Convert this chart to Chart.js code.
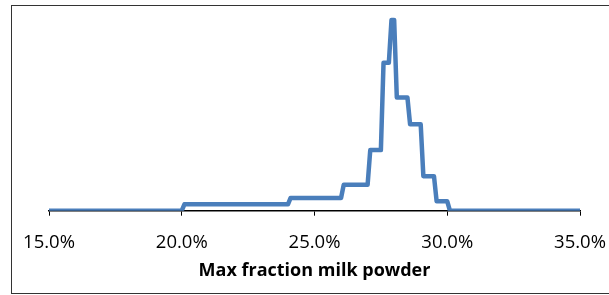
<!DOCTYPE html>
<html>
<head>
<meta charset="utf-8">
<script src="https://cdn.jsdelivr.net/npm/chart.js@4.4.1/dist/chart.umd.min.js"></script>
<style>
html, body { margin: 0; padding: 0; background: #fff; }
#box { width: 609px; height: 295px; }
</style>
</head>
<body>
<div id="box"><canvas id="courbe" width="609" height="295"></canvas></div>
<script>
//step points of the curve (x in %, y relative frequency)
var fraction = [15.0, 20.0, 20.1, 24.0, 24.1, 26.0, 26.1, 27.0, 27.1, 27.5, 27.6, 27.8, 27.9, 28.0, 28.1, 28.5, 28.6, 29.0, 29.1, 29.5, 29.6, 30.0, 30.1, 35.0];
var frequence = [0, 0, 3.2, 3.2, 6.4, 6.4, 13, 13, 30.5, 30.5, 74.4, 74.4, 96, 96, 57, 57, 43.5, 43.5, 17.4, 17.4, 4.7, 4.7, 0, 0];
//ticks of the x axis
var ticksX = [15, 20, 25, 30, 35];

var points = [];
for (var i = 0; i < fraction.length; i++) {
    points.push({x: fraction[i], y: frequence[i]});
}

//frame around the chart
var cadre = {
    id: 'cadre',
    beforeDraw: function(chart) {
        var ctx = chart.ctx;
        ctx.save();
        ctx.fillStyle = '#ffffff';
        ctx.fillRect(0, 0, chart.width, chart.height);
        ctx.strokeStyle = '#333333';
        ctx.lineWidth = 1;
        ctx.strokeRect(11.5, 5.5, 700, 288);
        ctx.restore();
    }
};

var ctxC = document.getElementById("courbe").getContext('2d');
var myLineChart = new Chart(ctxC, {
type: 'line',
data: {
datasets: [{
data: points,
borderColor: "#4a7ebb",
borderWidth: 4.5,
pointRadius: 0,
tension: 0,
fill: false,
borderCapStyle: 'round',
borderJoinStyle: 'round'
}]
},
options: {
responsive: false,
animation: false,
layout: { padding: { left: 49, right: 29, top: 12, bottom: 13 } },
plugins: { legend: { display: false }, tooltip: { enabled: false } },
scales: {
x: {
type: 'linear',
min: 15,
max: 35,
afterBuildTicks: function(axis) {
    axis.ticks = ticksX.map(function(v) { return {value: v}; });
},
//labels fit in the layout padding, no extra room needed
afterFit: function(axis) {
    axis.paddingLeft = 0;
    axis.paddingRight = 0;
},
ticks: {
color: '#000',
padding: 16,
maxRotation: 0,
font: { family: 'Open Sans', size: 18.5 },
callback: function(v) { return v.toFixed(1) + '%'; }
},
grid: { drawOnChartArea: false, tickLength: 5, color: '#000', lineWidth: 1 },
border: { color: '#000', width: 1.5 },
title: {
display: true,
text: 'Max fraction milk powder',
color: '#000',
padding: { top: -9.5, bottom: 0 },
font: { family: 'Open Sans', size: 18, weight: 'bold' }
}
},
y: {
display: false,
min: 0,
max: 100
}
}
},
plugins: [cadre]
});
</script>
</body>
</html>
